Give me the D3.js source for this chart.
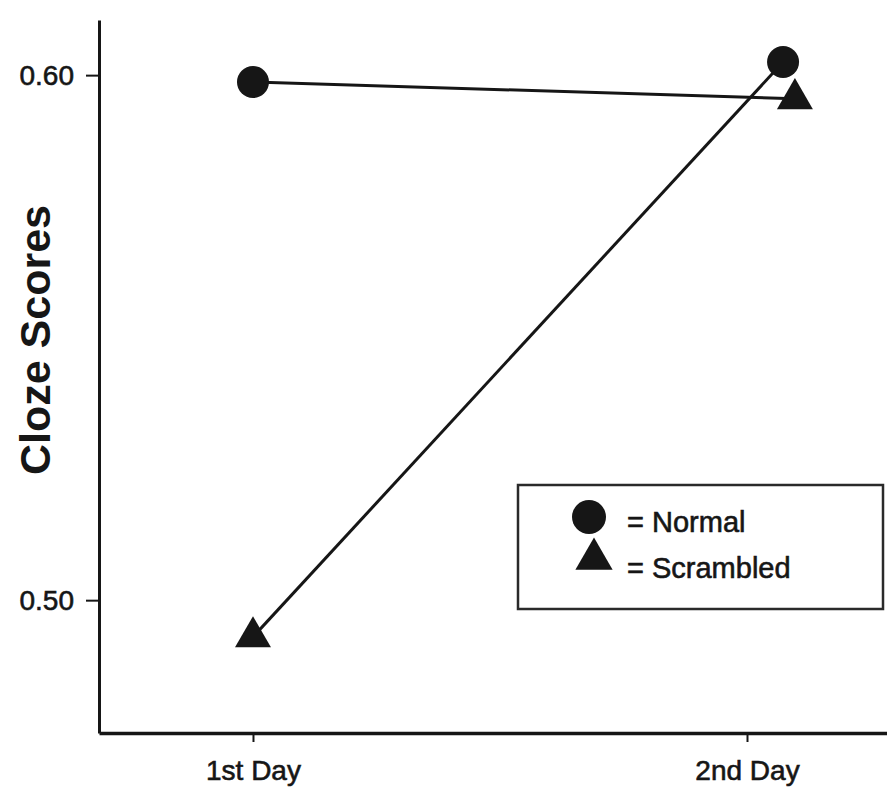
<!DOCTYPE html>
<html>
<head>
<meta charset="utf-8">
<script src="https://cdn.jsdelivr.net/npm/d3@7"></script>
<style>
  body { margin: 0; background: #fff; }
  svg { display: block; font-family: "Liberation Sans", Arial, Helvetica, sans-serif; }
</style>
</head>
<body>
<script>
// data
const days = ["1st Day", "2nd Day"];
const dayPos = [0, 1];
const yTicks = [0.50, 0.60];

// x is the day index, with the small offsets the markers have in the figure
const normalX = [0, 1.073];
const normalScores = [0.5987, 0.6025];
const scrambledX = [0, 1.097];
const scrambledScores = [0.4930, 0.5955];

const legendItems = ["= Normal", "= Scrambled"];

// the connecting lines as they run in the figure: [series, point] pairs
const links = [
  [["normal", 0], ["scrambled", 1]],
  [["scrambled", 0], ["normal", 1]]
];

const width = 887;
const height = 788;
const ink = "#161616";

const series = {
  normal: normalX.map((x, i) => ({ x: x, y: normalScores[i] })),
  scrambled: scrambledX.map((x, i) => ({ x: x, y: scrambledScores[i] }))
};

const svg = d3.select('body')
  .append('svg')
  .attr('width', width)
  .attr('height', height);

const x = d3.scaleLinear()
  .domain([-0.3117, 1.2834])
  .range([99, 887]);

const y = d3.scaleLinear()
  .domain([0.4747, 0.6105])
  .range([733, 20]);

// scanned text looks a bit heavier than plain regular weight
function inked(sel, size) {
  sel.attr('fill', ink)
    .attr('stroke', ink)
    .attr('stroke-width', 0.6)
    .style('font-size', size + 'px')
    .style('font-family', '"Liberation Sans", Arial, sans-serif');
}

// y axis
const yAxis = svg.append('g')
  .attr('transform', `translate(${x.range()[0]},0)`)
  .call(d3.axisLeft(y)
    .tickValues(yTicks)
    .tickFormat(d3.format('.2f'))
    .tickSize(13)
    .tickSizeOuter(0)
    .tickPadding(12));

yAxis.select('.domain').attr('stroke', ink).attr('stroke-width', 3);
yAxis.selectAll('.tick line').attr('stroke', ink).attr('stroke-width', 2);
yAxis.selectAll('.tick text').call(inked, 28);

// x axis
const xAxis = svg.append('g')
  .attr('transform', `translate(0,${y.range()[0]})`)
  .call(d3.axisBottom(x)
    .tickValues(dayPos)
    .tickFormat(i => days[i])
    .tickSize(9)
    .tickSizeOuter(0)
    .tickPadding(18));

xAxis.select('.domain').attr('stroke', ink).attr('stroke-width', 3.5);
xAxis.selectAll('.tick line').attr('stroke', ink).attr('stroke-width', 2);
xAxis.selectAll('.tick text').call(inked, 28);

// y axis title
svg.append('text')
  .attr('transform', 'translate(50,340) rotate(-90)')
  .attr('text-anchor', 'middle')
  .attr('fill', ink)
  .style('font-size', '43px')
  .style('font-weight', 'bold')
  .text('Cloze Scores');

// connecting lines
const line = d3.line()
  .x(d => x(d.x))
  .y(d => y(d.y));

svg.append('g')
  .selectAll('path')
  .data(links)
  .enter()
  .append('path')
  .attr('d', d => line(d.map(p => series[p[0]][p[1]])))
  .attr('fill', 'none')
  .attr('stroke', ink)
  .attr('stroke-width', 3);

// markers
svg.append('g')
  .selectAll('circle')
  .data(series.normal)
  .enter()
  .append('circle')
  .attr('cx', d => x(d.x))
  .attr('cy', d => y(d.y))
  .attr('r', 16)
  .attr('fill', ink);

const tri = d3.symbol().type(d3.symbolTriangle).size(560);

svg.append('g')
  .selectAll('path')
  .data(series.scrambled)
  .enter()
  .append('path')
  .attr('d', tri)
  .attr('transform', d => `translate(${x(d.x)},${y(d.y)})`)
  .attr('fill', ink);

// legend
const legend = svg.append('g')
  .attr('transform', 'translate(518,485)');

legend.append('rect')
  .attr('width', 365)
  .attr('height', 124)
  .attr('fill', '#fff')
  .attr('stroke', '#2a2a2a')
  .attr('stroke-width', 2.5);

const rows = legend.selectAll('g.row')
  .data(legendItems)
  .enter()
  .append('g')
  .attr('class', 'row')
  .attr('transform', (d, i) => `translate(0,${32 + i * 46})`);

rows.each(function (d, i) {
  const row = d3.select(this);
  if (i === 0) {
    row.append('circle').attr('cx', 71).attr('cy', 0).attr('r', 17).attr('fill', ink);
  } else {
    row.append('path')
      .attr('d', d3.symbol().type(d3.symbolTriangle).size(600))
      .attr('transform', 'translate(76,-4)')
      .attr('fill', ink);
  }
  row.append('text')
    .attr('x', 109)
    .attr('y', 15)
    .call(inked, 29)
    .text(d);
});
</script>
</body>
</html>
